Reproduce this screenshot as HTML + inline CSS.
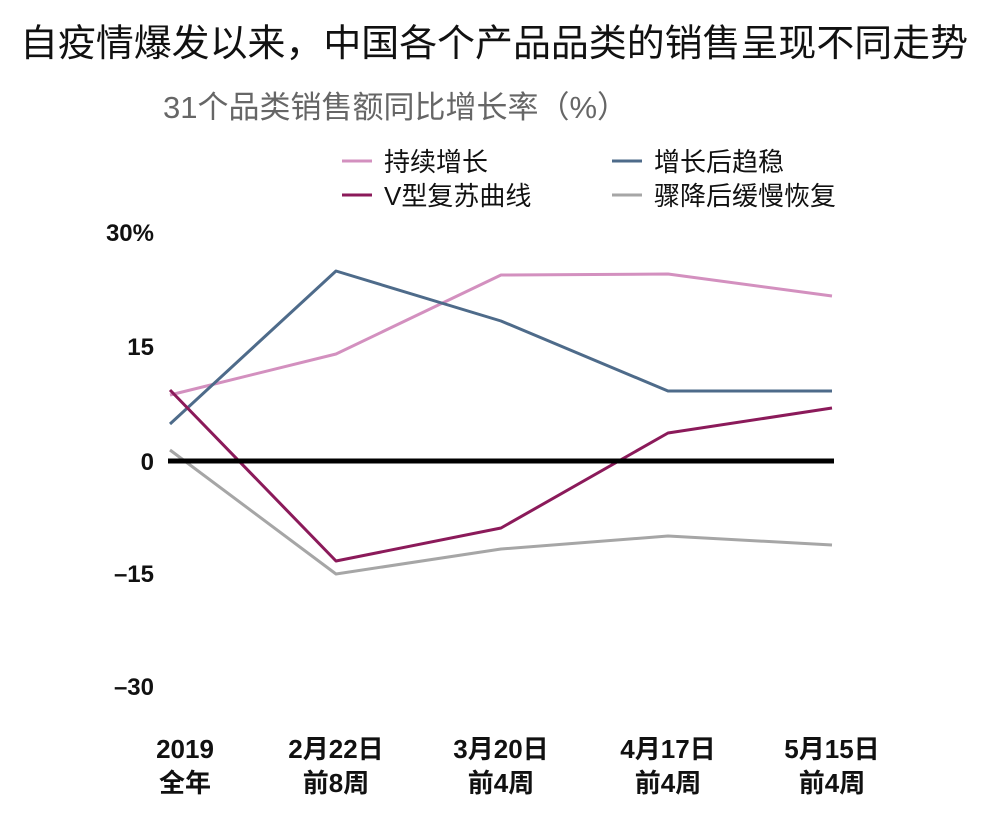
<!DOCTYPE html>
<html><head><meta charset="utf-8"><style>
body{margin:0;background:#fff;}
svg text{font-family:"Liberation Sans","Noto Sans CJK SC",sans-serif;}
</style></head><body>
<svg width="990" height="826" viewBox="0 0 990 826" xmlns="http://www.w3.org/2000/svg">
<rect width="990" height="826" fill="#fff"/>
<text x="20" y="56" font-size="37.5" fill="#111" textLength="948" lengthAdjust="spacingAndGlyphs">自疫情爆发以来，中国各个产品品类的销售呈现不同走势</text>
<text x="163" y="118" font-size="31" fill="#666" textLength="465" lengthAdjust="spacingAndGlyphs">31个品类销售额同比增长率（%）</text>
<g font-size="26" fill="#111">
<line x1="342" y1="161" x2="372" y2="161" stroke="#d390bf" stroke-width="3"/>
<text x="384" y="171">持续增长</text>
<line x1="612" y1="161" x2="642" y2="161" stroke="#4e6b8a" stroke-width="3"/>
<text x="654" y="171">增长后趋稳</text>
<line x1="342" y1="195" x2="372" y2="195" stroke="#8b1a5a" stroke-width="3"/>
<text x="384" y="205">V型复苏曲线</text>
<line x1="612" y1="195" x2="642" y2="195" stroke="#a6a6a6" stroke-width="3"/>
<text x="654" y="205">骤降后缓慢恢复</text>
</g>
<g font-size="24" font-weight="bold" fill="#111" text-anchor="end">
<text x="154" y="241">30%</text>
<text x="154" y="355">15</text>
<text x="154" y="470">0</text>
<text x="154" y="582">–15</text>
<text x="154" y="695">–30</text>
</g>
<g fill="none" stroke-width="3" stroke-linejoin="round">
<polyline stroke="#a6a6a6" points="170,450 336,574 501,549 668,536 832,545"/>
<polyline stroke="#d390bf" points="170,395 336,354 501,275 668,274 832,296"/>
<polyline stroke="#4e6b8a" points="170,424 336,271 501,321 668,391 832,391"/>
<polyline stroke="#8b1a5a" points="170,390 336,561 501,528 668,433 832,408"/>
</g>
<line x1="168" y1="461" x2="834" y2="461" stroke="#000" stroke-width="5"/>
<g font-size="26" font-weight="bold" fill="#111" text-anchor="middle">
<text x="185" y="758">2019</text><text x="185" y="792">全年</text>
<text x="336" y="758">2月22日</text><text x="336" y="792">前8周</text>
<text x="501" y="758">3月20日</text><text x="501" y="792">前4周</text>
<text x="668" y="758">4月17日</text><text x="668" y="792">前4周</text>
<text x="832" y="758">5月15日</text><text x="832" y="792">前4周</text>
</g>
</svg>
</body></html>
